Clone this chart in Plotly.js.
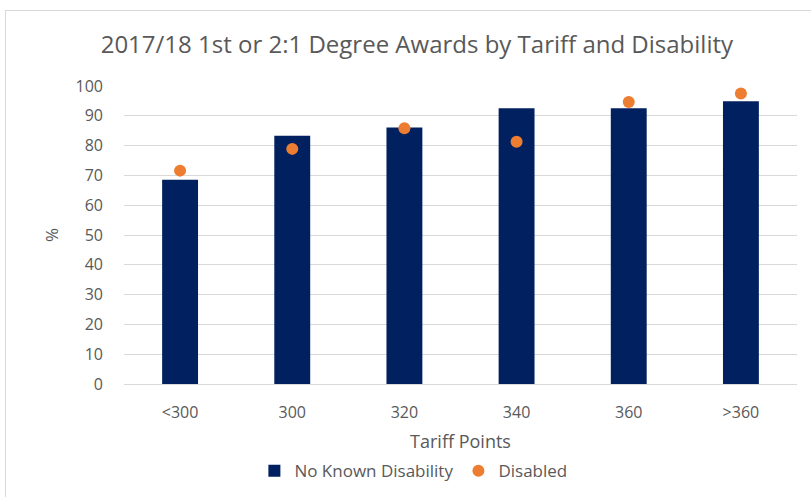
<!DOCTYPE html>
<html><head><meta charset="utf-8">
<script src="https://cdn.plot.ly/plotly-3.0.1.min.js"></script>
<style>
html,body{margin:0;padding:0;background:#fff;overflow:hidden;}
#frame{position:absolute;left:5px;top:10px;width:830px;height:520px;border:1px solid #d9d9d9;box-sizing:border-box;pointer-events:none;}
#chart{position:absolute;left:0;top:0;width:811px;height:497px;}
</style></head>
<body>
<div id="chart"></div>
<div id="frame"></div>
<script>
const categories = ["<300", "300", "320", "340", "360", ">360"];
const noKnownDisability = [68.5, 83.3, 86.1, 92.5, 92.5, 94.9];
const disabled = [71.6, 78.9, 85.8, 81.3, 94.6, 97.5];
const yTicks = [0,10,20,30,40,50,60,70,80,90,100];

const font = "Open Sans, Liberation Sans, sans-serif";
const traces = [
  {type:"bar", x:categories, y:noKnownDisability, name:"No Known Disability",
   marker:{color:"#002060"}},
  {type:"scatter", mode:"markers", x:categories, y:disabled, name:"Disabled",
   marker:{color:"#ED7D31", size:12}}
];
const layout = {
  width:811, height:497,
  margin:{l:124, r:14, t:86, b:113},
  paper_bgcolor:"rgba(0,0,0,0)", plot_bgcolor:"#fff",
  font:{family:font, color:"#595959", size:16},
  title:{text:"2017/18 1st or 2:1 Degree Awards by Tariff and Disability",
         font:{size:24, color:"#595959", family:font}, x:0.514, xanchor:"center",
         yref:"container", y:0.91, yanchor:"middle"},
  bargap:0.68,
  xaxis:{type:"category", showgrid:false, showline:true, linecolor:"#d9d9d9", linewidth:1,
         ticks:"", tickfont:{size:16}, ticklabelstandoff:14, automargin:false,
         title:{text:"Tariff Points", font:{size:18}, standoff:13}},
  yaxis:{range:[0,100], tickvals:yTicks, showgrid:true, gridcolor:"#d9d9d9", zeroline:false,
         ticks:"", tickfont:{size:16}, ticklabelstandoff:20, automargin:false,
         title:{text:"%", font:{size:17}, standoff:12}},
  showlegend:true,
  legend:{orientation:"h", x:0.43, xanchor:"center", yref:"container", y:0.088, yanchor:"top",
          font:{size:17}, itemwidth:30, tracegroupgap:0}
};
Plotly.newPlot("chart", traces, layout, {displayModeBar:false, staticPlot:true});
</script>
</body></html>
